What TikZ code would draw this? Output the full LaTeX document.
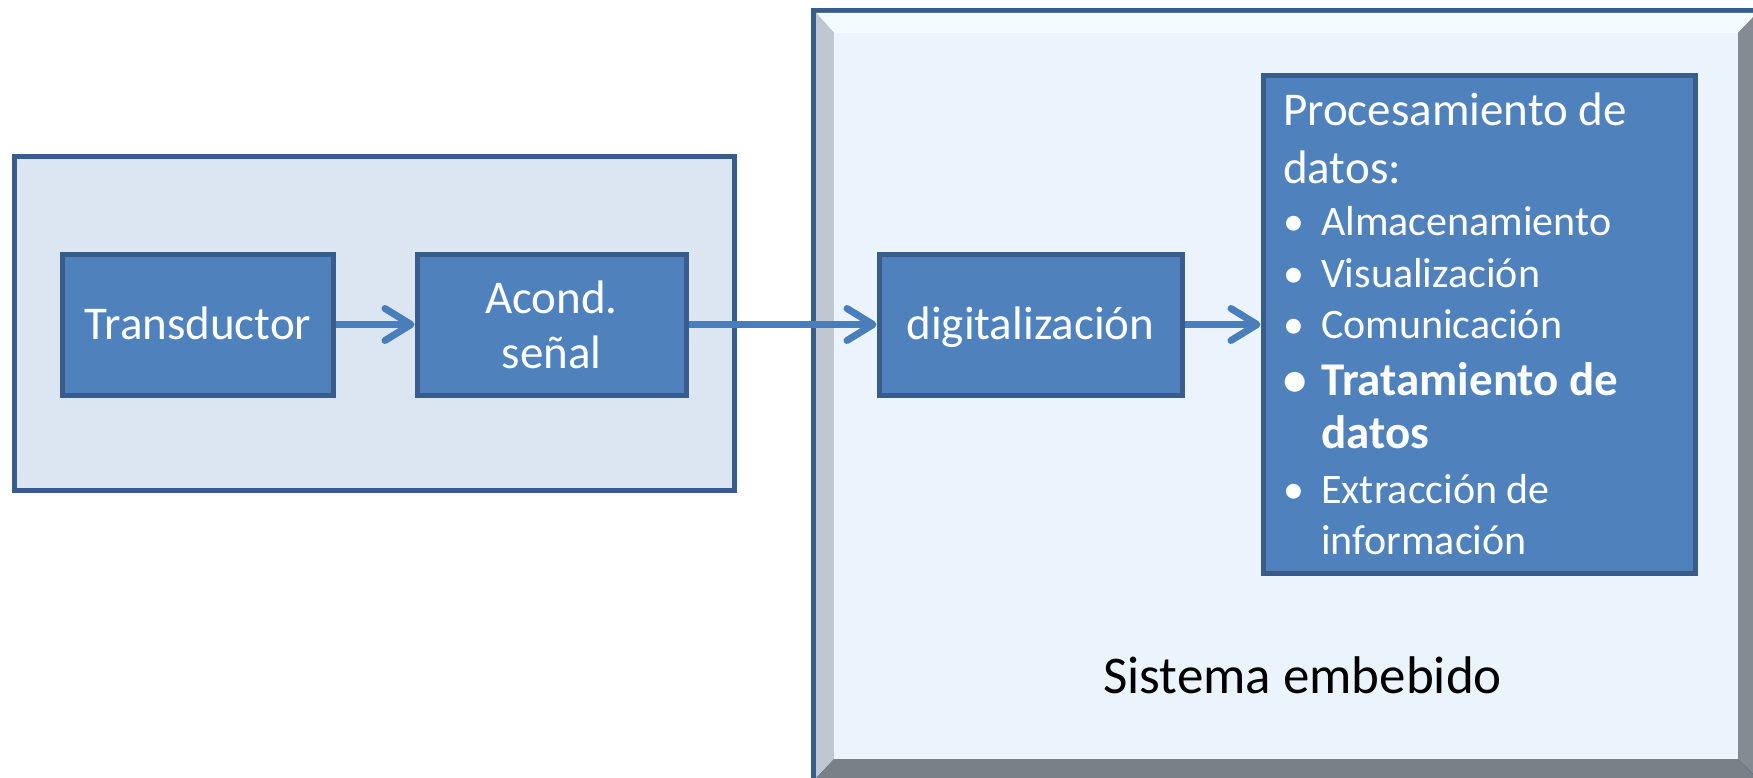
\documentclass[tikz,border=0pt]{standalone}
\usepackage{fontspec}
\setmainfont{Carlito}
\usetikzlibrary{arrows.meta}

\definecolor{boxfill}{HTML}{4F81BD}
\definecolor{boxline}{HTML}{385D8A}
\definecolor{arrowblue}{HTML}{4A7EBB}
\definecolor{panelfill}{HTML}{DCE6F2}
\definecolor{facefill}{HTML}{EBF4FD}
\definecolor{bevtop}{HTML}{F2FBFF}
\definecolor{bevleft}{HTML}{BEC7D2}
\definecolor{bevright}{HTML}{848B93}
\definecolor{bevbottom}{HTML}{7A8088}

\tikzset{
  blockbox/.style={draw=boxline, fill=boxfill, line width=5bp, inner sep=0pt,
    text=white, font=\fontsize{47bp}{55bp}\selectfont, align=center},
  panelbox/.style={draw=boxline, fill=panelfill, line width=5bp, inner sep=0pt},
  conn/.style={draw=arrowblue, line width=7bp,
    -{Straight Barb[length=26bp, width=32bp, round]}},
  listtext/.style={anchor=base west, inner sep=0pt, text=white},
  headfont/.style={font=\fontsize{47bp}{55bp}\selectfont},
  itemfont/.style={font=\fontsize{42bp}{50bp}\selectfont},
  boldfont/.style={font=\fontsize{47bp}{55bp}\selectfont\bfseries},
}
\newcommand{\bul}[1]{\makebox[38bp][l]{\textbullet}#1}
\newcommand{\nobul}[1]{\hspace*{38bp}#1}

\begin{document}
\begin{tikzpicture}[x=1bp, y=-1bp]
  % canvas
  \clip (0,0) rectangle (1753,778);
  \fill[white] (0,0) rectangle (1753,778);

  % bevelled frame of the embedded system (runs off the right and bottom edges)
  \fill[boxline] (811,8) rectangle (1760,785);
  \fill[bevtop] (816,13) -- (1757,13) -- (1738,33) -- (834,33) -- cycle;
  \fill[bevleft] (816,13) -- (834,33) -- (834,759) -- (816,778) -- cycle;
  \fill[bevright] (1757,13) -- (1738,33) -- (1738,759) -- (1757,778) -- cycle;
  \fill[bevbottom] (816,779) -- (834,759) -- (1738,759) -- (1757,779) -- cycle;
  \fill[facefill] (834,33) rectangle (1738,759);

  % sensor side panel
  \node[panelbox, minimum width=719bp, minimum height=333bp] (panel) at (374.5,323.5) {};

  % blocks
  \node[blockbox, minimum width=270bp, minimum height=141bp, text height=29bp, text depth=0bp]
    (trans) at (198,324.5) {Transductor};
  \node[blockbox, minimum width=269bp, minimum height=141bp]
    (acond) at (551.5,324.5) {Acond.\\señal};
  \node[blockbox, minimum width=303bp, minimum height=141bp, text height=29bp, text depth=0bp]
    (digit) at (1030.5,324.5) {digitalización};
  \node[blockbox, minimum width=432bp, minimum height=497bp] (proc) at (1479,324.5) {};

  % connectors
  \draw[conn] (trans.east) -- (acond.west);
  \draw[conn] (acond.east) -- (digit.west);
  \draw[conn] (digit.east) -- (proc.west |- digit.east);

  % processing list
  \node[listtext, headfont] (h1) at (1283,125) {Procesamiento de};
  \node[listtext, headfont] (h2) at (1283,183) {datos:};
  \node[listtext, itemfont] (i1) at (1283,235) {\bul{Almacenamiento}};
  \node[listtext, itemfont] (i2) at (1283,287) {\bul{Visualización}};
  \node[listtext, itemfont] (i3) at (1283,338) {\bul{Comunicación}};
  \node[listtext, boldfont] (i4) at (1283,395) {\bul{Tratamiento de}};
  \node[listtext, boldfont] (i4b) at (1283,448) {\nobul{datos}};
  \node[listtext, itemfont] (i5) at (1283,503) {\bul{Extracción de}};
  \node[listtext, itemfont] (i5b) at (1283,554) {\nobul{información}};

  % caption of the embedded system
  \node[anchor=base, inner sep=0pt, font=\fontsize{53bp}{60bp}\selectfont] (sys) at (1302.5,693) {Sistema embebido};
\end{tikzpicture}
\end{document}
